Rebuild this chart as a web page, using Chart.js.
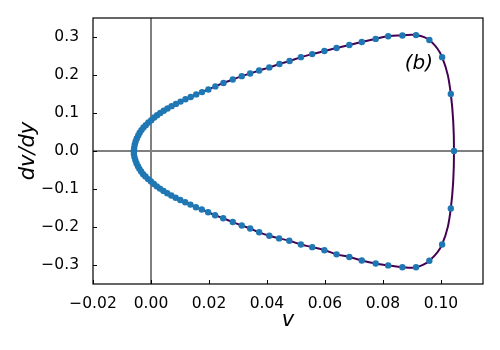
<!DOCTYPE html>
<html>
<head>
<meta charset="utf-8">
<script src="https://cdn.jsdelivr.net/npm/chart.js@4/dist/chart.umd.min.js"></script>
<style>
  html, body { margin: 0; padding: 0; background: #fff; }
  #wrap { width: 500px; height: 350px; }
</style>
</head>
<body>
<div id="wrap"><canvas id="phaseChart" width="500" height="350"></canvas></div>
<script>
// upper branch, from the left tip out to the right end
const upperV  = [-0.0059, -0.0058, -0.0056, -0.0053, -0.0049, -0.0044, -0.0039, -0.0033, -0.0026, -0.0018,
                 -0.0009, 0.0001, 0.0011, 0.0021, 0.0032, 0.0044, 0.0057, 0.0071, 0.0086, 0.0102,
                 0.0119, 0.0137, 0.0156, 0.0176, 0.0198, 0.0222, 0.0250, 0.0282, 0.0313, 0.0342,
                 0.0373, 0.0408, 0.0443, 0.0478, 0.0517, 0.0556, 0.0598, 0.0640, 0.0684, 0.0727,
                 0.0775, 0.0818, 0.0867, 0.0914, 0.0960, 0.1004, 0.1034, 0.1045];
const upperDV = [0.000, 0.008, 0.017, 0.025, 0.033, 0.041, 0.048, 0.055, 0.062, 0.068,
                 0.075, 0.081, 0.088, 0.094, 0.100, 0.106, 0.112, 0.118, 0.124, 0.130,
                 0.136, 0.142, 0.149, 0.155, 0.162, 0.170, 0.179, 0.188, 0.197, 0.204,
                 0.212, 0.220, 0.229, 0.237, 0.247, 0.255, 0.263, 0.271, 0.279, 0.287,
                 0.295, 0.302, 0.304, 0.305, 0.292, 0.247, 0.150, 0.000];
// lower branch, from the right end back to the tip
const lowerV  = [0.1034, 0.1004, 0.0960, 0.0914, 0.0867, 0.0818, 0.0775, 0.0727, 0.0684, 0.0640,
                 0.0598, 0.0556, 0.0517, 0.0477, 0.0442, 0.0408, 0.0373, 0.0342, 0.0313, 0.0282,
                 0.0249, 0.0221, 0.0197, 0.0175, 0.0155, 0.0136, 0.0118, 0.0101, 0.0085, 0.0070,
                 0.0056, 0.0043, 0.0031, 0.0020, 0.0010, 0.0000, -0.0010, -0.0019, -0.0027, -0.0034,
                 -0.0040, -0.0045, -0.0050, -0.0054, -0.0057, -0.0059];
const lowerDV = [-0.151, -0.246, -0.289, -0.306, -0.306, -0.301, -0.296, -0.288, -0.279, -0.272,
                 -0.261, -0.253, -0.246, -0.236, -0.230, -0.223, -0.214, -0.204, -0.196, -0.187,
                 -0.177, -0.169, -0.161, -0.154, -0.148, -0.141, -0.135, -0.129, -0.123, -0.117,
                 -0.111, -0.105, -0.099, -0.093, -0.087, -0.080, -0.074, -0.067, -0.061, -0.054,
                 -0.047, -0.040, -0.032, -0.024, -0.016, -0.008];

const xTicks = [-0.02, 0.00, 0.02, 0.04, 0.06, 0.08, 0.10];
const yTicks = [-0.3, -0.2, -0.1, 0.0, 0.1, 0.2, 0.3];
const panelLabel = '(b)';

const loop = upperV.map((v, i) => ({x: v, y: upperDV[i]}))
  .concat(lowerV.map((v, i) => ({x: v, y: lowerDV[i]})));
loop.push({x: upperV[0], y: upperDV[0]});

const minus = s => s.replace('-', '\u2212');

const framePlugin = {
  id: 'frame',
  beforeDatasetsDraw(chart) {
    const {ctx, chartArea: a, scales: {x, y}} = chart;
    ctx.save();
    ctx.strokeStyle = '#808080';
    ctx.lineWidth = 2;
    const x0 = x.getPixelForValue(0), y0 = y.getPixelForValue(0);
    ctx.beginPath();
    ctx.moveTo(x0, a.top); ctx.lineTo(x0, a.bottom);
    ctx.moveTo(a.left, y0); ctx.lineTo(a.right, y0);
    ctx.stroke();
    ctx.restore();
  },
  afterDraw(chart) {
    const {ctx, chartArea: a, scales: {x, y}} = chart;
    ctx.save();
    ctx.strokeStyle = '#000';
    ctx.lineWidth = 1;
    ctx.beginPath();
    xTicks.forEach(t => {
      const px = Math.round(x.getPixelForValue(t)) + 0.5;
      ctx.moveTo(px, a.bottom); ctx.lineTo(px, a.bottom - 4);
    });
    yTicks.forEach(t => {
      const py = Math.round(y.getPixelForValue(t)) + 0.5;
      ctx.moveTo(a.left, py); ctx.lineTo(a.left + 4, py);
    });
    ctx.stroke();
    ctx.lineWidth = 1.2;
    ctx.strokeRect(a.left, a.top, a.right - a.left, a.bottom - a.top);
    // panel label
    ctx.fillStyle = '#000';
    ctx.font = 'italic 20px "DejaVu Sans"';
    ctx.textAlign = 'center';
    ctx.textBaseline = 'middle';
    ctx.fillText(panelLabel, x.getPixelForValue(0.0924), y.getPixelForValue(0.229));
    ctx.restore();
  }
};

new Chart(document.getElementById('phaseChart'), {
  type: 'scatter',
  data: {
    datasets: [
      {data: loop, showLine: false, pointRadius: 3.2, pointBackgroundColor: '#1f77b4',
       pointBorderWidth: 0, order: 0},
      {data: loop, showLine: true, pointRadius: 0, borderColor: '#440154', borderWidth: 2,
       tension: 0.4, order: 1}
    ]
  },
  options: {
    responsive: false,
    animation: false,
    layout: {padding: {top: 18, right: 17, left: 0, bottom: 0}},
    plugins: {legend: {display: false}, tooltip: {enabled: false}},
    scales: {
      x: {
        type: 'linear', min: -0.02, max: 0.1145,
        afterBuildTicks: s => { s.ticks = xTicks.map(v => ({value: v})); },
        afterFit: s => { s.height = 66; },
        grid: {display: false}, border: {display: false},
        ticks: {color: '#000', padding: 3, font: {family: 'DejaVu Sans', size: 15.5},
                callback: v => minus(v.toFixed(2))},
        title: {display: true, text: 'v', color: '#000', padding: {top: 0, bottom: 17},
                font: {family: 'DejaVu Sans', size: 21, style: 'italic'}}
      },
      y: {
        type: 'linear', min: -0.35, max: 0.35,
        afterBuildTicks: s => { s.ticks = yTicks.map(v => ({value: v})); },
        afterFit: s => { s.width = 93; },
        grid: {display: false}, border: {display: false},
        ticks: {color: '#000', padding: 6, font: {family: 'DejaVu Sans', size: 15.5},
                callback: v => minus(v.toFixed(1))},
        title: {display: true, text: 'dv/dy', color: '#000', padding: {top: 16, bottom: 0},
                font: {family: 'DejaVu Sans', size: 21, style: 'italic'}}
      }
    }
  },
  plugins: [framePlugin]
});
</script>
</body>
</html>
